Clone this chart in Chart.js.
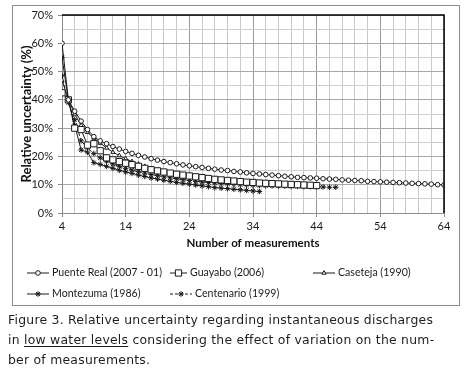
<!DOCTYPE html>
<html>
<head>
<meta charset="utf-8">
<script src="https://cdn.jsdelivr.net/npm/chart.js@4/dist/chart.umd.min.js"></script>
<style>
  body { margin: 0; background: #fff; width: 465px; height: 373px; overflow: hidden; position: relative; }
  #wrap { position: absolute; left: 0; top: 0; width: 465px; height: 310px; }
  #frame { position: absolute; left: 12px; top: 5px; width: 446px; height: 299px; border: 1px solid #8c8c8c; pointer-events: none; }
  #caption { position: absolute; left: 8px; top: 310px; width: 457px; font-family: "DejaVu Sans", sans-serif; font-size: 12.4px; line-height: 20px; color: #1e1e1e; letter-spacing: 0.25px; white-space: nowrap; }
  #caption u { text-underline-offset: 2px; }
</style>
</head>
<body>
<div id="wrap"><canvas id="chart" width="465" height="310"></canvas></div>
<div id="frame"></div>
<div id="caption">Figure 3. Relative uncertainty regarding instantaneous discharges<br>in <u>low water levels</u> considering the effect of variation on the num-<br>ber of measurements.</div>
<script>
// number of measurements starts at 4 for every series
const firstCount = 4;
const xTicks = [4, 14, 24, 34, 44, 54, 64];
const yTicks = [0, 10, 20, 30, 40, 50, 60, 70];

const puenteReal = [60, 40, 36, 32.5, 29.5, 27, 25.5, 24.5, 23.5, 22.6, 21.8, 21.1, 20.4, 19.8, 19.2, 18.7,
  18.2, 17.8, 17.4, 17.0, 16.7, 16.4, 16.1, 15.8, 15.5, 15.2, 15.0, 14.7, 14.5, 14.2, 14.0, 13.8, 13.6,
  13.4, 13.2, 13.0, 12.8, 12.6, 12.5, 12.4, 12.3, 12.1, 12.0, 11.9, 11.7, 11.6, 11.5, 11.4, 11.2, 11.1,
  11.0, 10.9, 10.8, 10.7, 10.6, 10.5, 10.4, 10.3, 10.2, 10.0, 9.9];
const guayabo = [42.5, 40, 30, 29.5, 24, 24.5, 22, 19.5, 18.8, 18.2, 17.6, 17.1, 16.5, 15.8, 15.3, 14.9,
  14.5, 14.1, 13.7, 13.4, 13.1, 12.8, 12.5, 12.2, 11.9, 11.7, 11.5, 11.3, 11.1, 10.9, 10.8, 10.6, 10.5,
  10.4, 10.3, 10.2, 10.1, 10.0, 9.9, 9.8, 9.7];
const caseteja = [47, 40, 35, 31, 28.5, 26.5, 24.7, 23, 21.5, 20.3, 19.2, 18.2, 17.3, 16.5, 15.8, 15.2,
  14.7, 14.2, 13.8, 13.4, 13.0, 12.7, 12.4, 12.1, 11.8, 11.5, 11.3, 11.1, 10.9, 10.7, 10.5, 10.4, 10.2,
  10.1, 10.0, 9.9, 9.8, 9.7, 9.6, 9.5, 9.4];
const montezuma = [55, 40, 31, 22.3, 21.5, 17.8, 17.2, 16.5, 15.8, 15.1, 14.5, 14.0, 13.4, 12.9, 12.4, 12.0,
  11.6, 11.2, 10.8, 10.5, 10.2, 9.9, 9.6, 9.3, 9.0, 8.8, 8.6, 8.4, 8.2, 8.0, 7.8, 7.6];
const centenario = [48.6, 39, 33, 25.5, 23, 21, 19.5, 18.3, 17.3, 16.5, 15.8, 15.2, 14.6, 14.1, 13.6, 13.2,
  12.8, 12.4, 12.1, 11.8, 11.5, 11.2, 11.0, 10.8, 10.6, 10.4, 10.3, 10.1, 10.0, 9.9, 9.8, 9.7, 9.6, 9.6,
  9.5, 9.5, 9.4, 9.4, 9.3, 9.3, 9.2, 9.2, 9.1, 9.1];

const seriesNames = ['Puente Real (2007 - 01)', 'Guayabo (2006)', 'Caseteja (1990)', 'Montezuma (1986)', 'Centenario (1999)'];

const toPoints = values => values.map((v, i) => ({ x: firstCount + i, y: v }));

function makeSet(label, values, pointStyle, radius, dash) {
    return {
        label: label,
        data: toPoints(values),
        borderColor: '#1a1a1a',
        borderWidth: 1,
        borderDash: dash || [],
        pointStyle: pointStyle,
        pointRadius: radius,
        pointBorderColor: '#1a1a1a',
        pointBackgroundColor: '#ffffff',
        pointBorderWidth: 1,
        tension: 0,
        fill: false
    };
}

const datasets = [
    makeSet(seriesNames[0], puenteReal, 'circle', 2.3),
    makeSet(seriesNames[1], guayabo, 'rect', 4.4),
    makeSet(seriesNames[2], caseteja, 'triangle', 2.4),
    makeSet(seriesNames[3], montezuma, 'star', 2.8),
    makeSet(seriesNames[4], centenario, 'star', 2.8, [3, 2])
];

// top / right frame of the plot area
const plotFrame = {
    id: 'plotFrame',
    afterDraw(chart) {
        const { ctx, chartArea: a } = chart;
        ctx.save();
        ctx.strokeStyle = '#000';
        ctx.lineWidth = 1.5;
        ctx.beginPath();
        ctx.moveTo(a.left, a.top);
        ctx.lineTo(a.right, a.top);
        ctx.lineTo(a.right, a.bottom);
        ctx.stroke();
        ctx.restore();
    }
};

// legend with a short line sample and the marker in it
const lineLegend = {
    id: 'lineLegend',
    afterDraw(chart) {
        const ctx = chart.ctx;
        const slots = [
            { x: 27, y: 273, w: 22 },
            { x: 170, y: 273, w: 17 },
            { x: 313, y: 273, w: 22 },
            { x: 27, y: 294, w: 22 },
            { x: 170, y: 294, w: 22 }
        ];
        ctx.save();
        chart.data.datasets.forEach((ds, i) => {
            const s = slots[i];
            ctx.strokeStyle = ds.borderColor;
            ctx.lineWidth = 1;
            ctx.setLineDash(ds.borderDash);
            ctx.beginPath();
            ctx.moveTo(s.x, s.y);
            ctx.lineTo(s.x + s.w, s.y);
            ctx.stroke();
            ctx.setLineDash([]);
            ctx.fillStyle = ds.pointBackgroundColor;
            Chart.helpers.drawPoint(ctx, {
                pointStyle: ds.pointStyle, radius: ds.pointRadius, rotation: 0, borderWidth: 1
            }, s.x + s.w / 2, s.y);
            ctx.fillStyle = '#1a1a1a';
            ctx.font = '10.6px Lato';
            ctx.textBaseline = 'middle';
            ctx.fillText(ds.label, s.x + s.w + 3, s.y);
        });
        ctx.restore();
    }
};

new Chart(document.getElementById('chart'), {
    type: 'line',
    data: { datasets: datasets },
    options: {
        responsive: false,
        animation: false,
        layout: { padding: { left: 14, top: 15, right: 21, bottom: 0 } },
        plugins: {
            legend: { display: false },
            tooltip: { enabled: false }
        },
        scales: {
            x: {
                type: 'linear',
                min: xTicks[0],
                max: xTicks[xTicks.length - 1],
                afterFit: scale => { scale.height = 97; },
                afterBuildTicks: scale => {
                    const t = [];
                    for (let v = xTicks[0]; v <= xTicks[xTicks.length - 1]; v += 2) t.push({ value: v });
                    scale.ticks = t;
                },
                border: { color: '#8c8c8c', width: 1 },
                grid: {
                    color: c => xTicks.includes(c.tick.value) ? '#9a9a9a' : '#c9c9c9',
                    tickColor: c => xTicks.includes(c.tick.value) ? '#8c8c8c' : 'rgba(0,0,0,0)',
                    tickLength: 4
                },
                ticks: {
                    autoSkip: false,
                    maxRotation: 0,
                    padding: 3,
                    color: '#1a1a1a',
                    font: { family: 'Lato', size: 11 },
                    callback: v => xTicks.includes(v) ? String(v) : ''
                },
                title: {
                    display: true,
                    text: 'Number of measurements',
                    color: '#111',
                    font: { family: 'Lato', size: 11.5, weight: 'bold' },
                    padding: { top: 0, bottom: 60 }
                }
            },
            y: {
                min: yTicks[0],
                max: yTicks[yTicks.length - 1],
                afterFit: scale => { scale.width = 48; },
                afterBuildTicks: scale => {
                    const t = [];
                    for (let v = yTicks[0]; v <= yTicks[yTicks.length - 1]; v += 5) t.push({ value: v });
                    scale.ticks = t;
                },
                border: { color: '#8c8c8c', width: 1 },
                grid: {
                    color: c => yTicks.includes(c.tick.value) ? '#a8a8a8' : '#cdcdcd',
                    tickColor: c => yTicks.includes(c.tick.value) ? '#8c8c8c' : 'rgba(0,0,0,0)',
                    tickLength: 4
                },
                ticks: {
                    autoSkip: false,
                    padding: 5,
                    color: '#1a1a1a',
                    font: { family: 'Lato', size: 11 },
                    callback: v => yTicks.includes(v) ? v + '%' : ''
                },
                title: {
                    display: true,
                    text: 'Relative uncertainty (%)',
                    color: '#111',
                    font: { family: 'Lato', size: 13, weight: 'bold' },
                    padding: { top: 5, bottom: 0 }
                }
            }
        }
    },
    plugins: [plotFrame, lineLegend]
});
</script>
</body>
</html>
